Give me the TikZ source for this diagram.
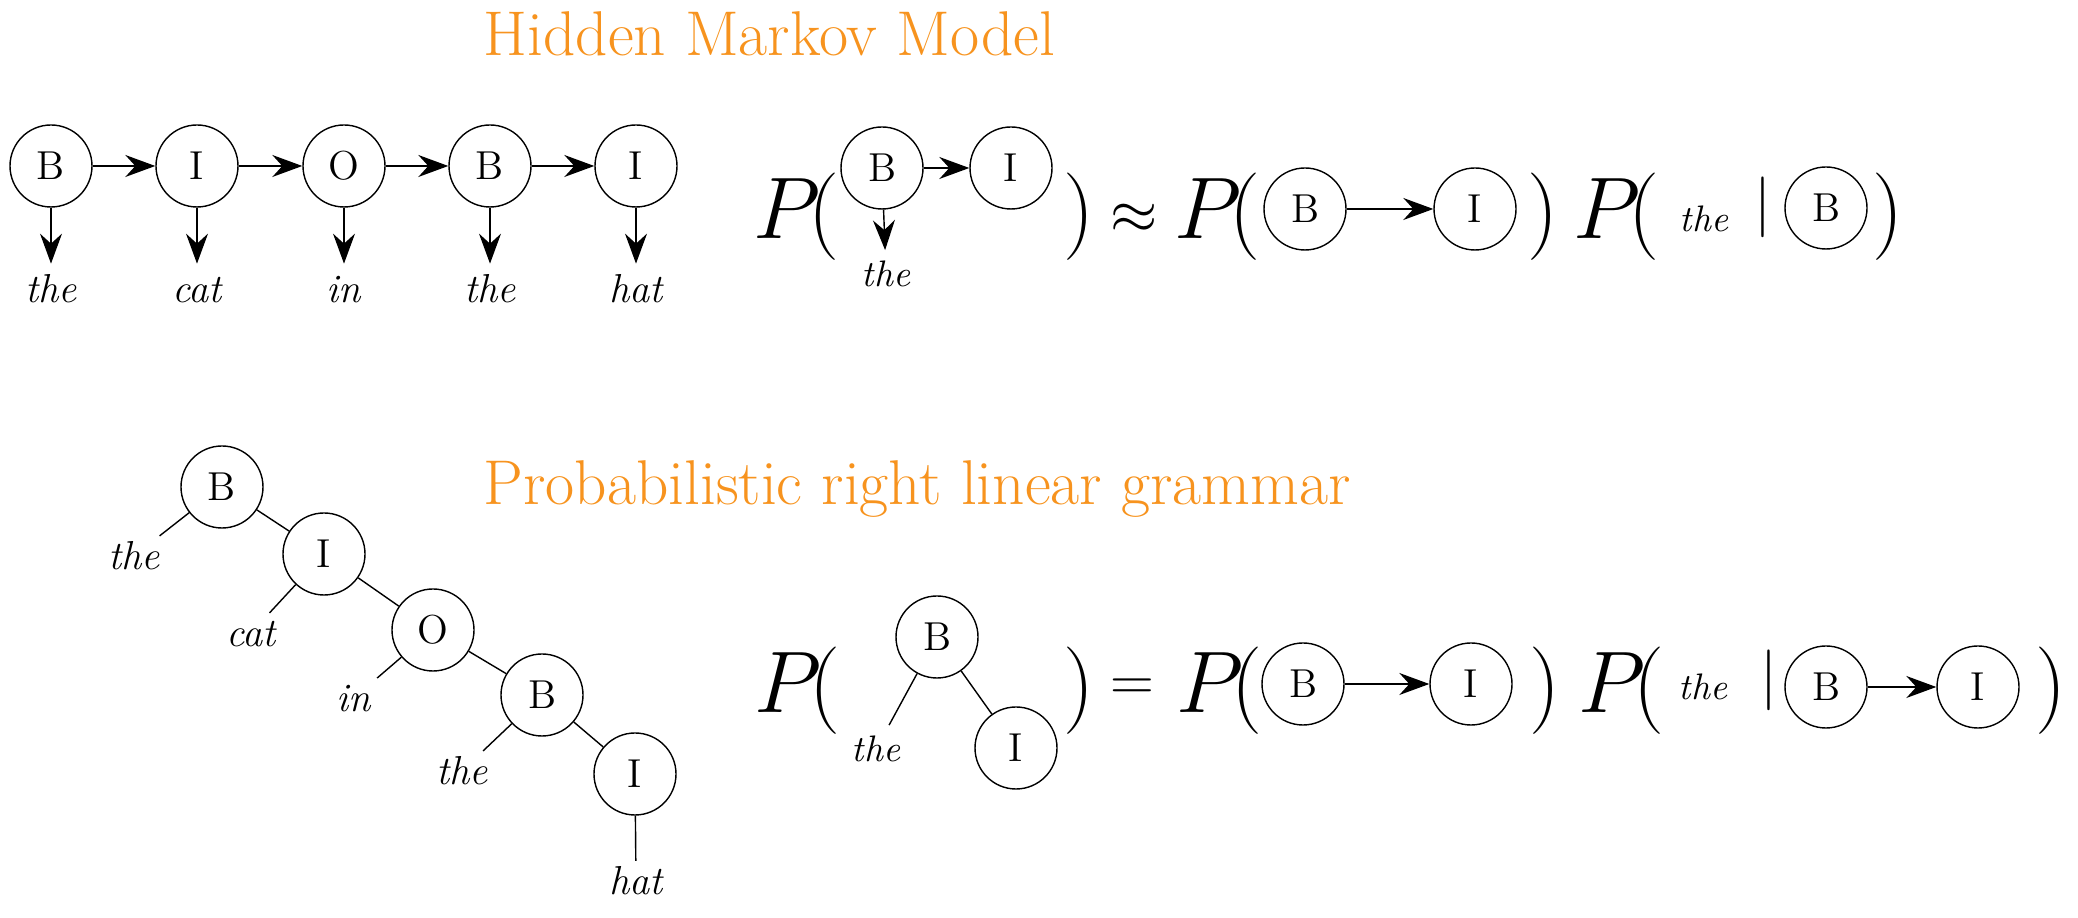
\documentclass[tikz,border=0pt]{standalone}
\usepackage{fontspec}
\usetikzlibrary{arrows.meta,positioning}
\definecolor{titleorange}{RGB}{247,147,30}
\tikzset{
	tag/.style={draw, circle, minimum size=0.82cm, inner sep=0pt, font=\fontsize{11.5}{14}\selectfont},
	word/.style={font=\fontsize{11.5}{14}\selectfont\itshape, text height=8pt, text depth=0pt, inner sep=3pt},
	leaf/.style={word, inner sep=1.5pt},
	eqword/.style={word, font=\fontsize{10.5}{13}\selectfont\itshape, text height=7.3pt},
	heading/.style={anchor=base west, inner sep=0pt, text=titleorange, font=\fontsize{18}{22}\selectfont},
	bigsym/.style={anchor=base west, inner sep=0pt, font=\fontsize{24}{28}\selectfont},
	relsym/.style={bigsym, font=\fontsize{17}{20}\selectfont},
	barsym/.style={bigsym, font=\fontsize{16.5}{20}\selectfont},
	emit/.style={-{Stealth[length=3mm, width=2.2mm, inset=1mm]}},
}
\begin{document}
\begin{tikzpicture}
	\useasboundingbox (0,0) rectangle (20.78,9.18);

	\node[heading] (hmm) at (4.83,8.62) {Hidden Markov Model};
	\node[heading] (prlg) at (4.83,4.13) {Probabilistic right linear grammar};

	\begin{scope}
		\node[tag] (c1) at (0.51,7.52) {B};
		\node[tag] (c2) at (1.97,7.52) {I};
		\node[tag] (c3) at (3.44,7.52) {O};
		\node[tag] (c4) at (4.90,7.52) {B};
		\node[tag] (c5) at (6.36,7.52) {I};
		\node[word, anchor=base] (cw1) at (0.51,6.15) {the};
		\node[word, anchor=base] (cw2) at (1.97,6.15) {cat};
		\node[word, anchor=base] (cw3) at (3.44,6.15) {in};
		\node[word, anchor=base] (cw4) at (4.90,6.15) {the};
		\node[word, anchor=base] (cw5) at (6.36,6.15) {hat};
		\draw[emit] (c1) -- (c2);
		\draw[emit] (c2) -- (c3);
		\draw[emit] (c3) -- (c4);
		\draw[emit] (c4) -- (c5);
		\draw[emit] (c1) -- (cw1);
		\draw[emit] (c2) -- (cw2);
		\draw[emit] (c3) -- (cw3);
		\draw[emit] (c4) -- (cw4);
		\draw[emit] (c5) -- (cw5);
	\end{scope}

	\begin{scope}
		\node[bigsym] (p1) at (7.53,6.79) {$P\mkern-2.5mu($};
		\node[tag] (e1b) at (8.82,7.50) {B};
		\node[tag] (e1i) at (10.11,7.50) {I};
		\node[eqword, anchor=base] (e1w) at (8.86,6.31) {the};
		\node[bigsym] (q1) at (10.63,6.79) {$)$};
		\node[relsym] (approx) at (11.10,6.84) {$\approx$};
		\node[bigsym] (p2) at (11.74,6.79) {$P\mkern-2.5mu($};
		\node[tag] (e2b) at (13.05,7.09) {B};
		\node[tag] (e2i) at (14.75,7.09) {I};
		\node[bigsym] (q2) at (15.27,6.79) {$)$};
		\node[bigsym] (p3) at (15.73,6.79) {$P\mkern-2.5mu($};
		\node[eqword, anchor=base] (e3w) at (17.04,6.86) {the};
		\node[barsym] (bar1) at (17.54,6.95) {$|$};
		\node[tag] (e3b) at (18.26,7.10) {B};
		\node[bigsym] (q3) at (18.72,6.79) {$)$};
		\draw[emit] (e1b) -- (e1i);
		\draw[emit] (e1b) -- (e1w);
		\draw[emit] (e2b) -- (e2i);
	\end{scope}

	\begin{scope}
		\node[tag] (t1) at (2.22,4.31) {B};
		\node[tag] (t2) at (3.24,3.64) {I};
		\node[tag] (t3) at (4.33,2.88) {O};
		\node[tag] (t4) at (5.42,2.23) {B};
		\node[tag] (t5) at (6.35,1.44) {I};
		\node[leaf, anchor=base] (tw1) at (1.34,3.48) {the};
		\node[leaf, anchor=base] (tw2) at (2.51,2.71) {cat};
		\node[leaf, anchor=base] (tw3) at (3.54,2.06) {in};
		\node[leaf, anchor=base] (tw4) at (4.62,1.33) {the};
		\node[leaf, anchor=base] (tw5) at (6.36,0.23) {hat};
		\draw (t1) -- (t2);
		\draw (t2) -- (t3);
		\draw (t3) -- (t4);
		\draw (t4) -- (t5);
		\draw (t1) -- (tw1);
		\draw (t2) -- (tw2);
		\draw (t3) -- (tw3);
		\draw (t4) -- (tw4);
		\draw (t5) -- (tw5);
	\end{scope}

	\begin{scope}
		\node[bigsym] (p4) at (7.54,2.05) {$P\mkern-2.5mu($};
		\node[tag] (f1b) at (9.37,2.81) {B};
		\node[tag] (f1i) at (10.16,1.70) {I};
		\node[eqword, anchor=base] (f1w) at (8.76,1.56) {the};
		\node[bigsym] (q4) at (10.63,2.05) {$)$};
		\node[relsym] (eqs) at (11.10,2.17) {$=$};
		\node[bigsym] (p5) at (11.76,2.05) {$P\mkern-2.5mu($};
		\node[tag] (f2b) at (13.03,2.34) {B};
		\node[tag] (f2i) at (14.71,2.34) {I};
		\node[bigsym] (q5) at (15.29,2.05) {$)$};
		\node[bigsym] (p6) at (15.78,2.05) {$P\mkern-2.5mu($};
		\node[eqword, anchor=base] (f3w) at (17.03,2.18) {the};
		\node[barsym] (bar2) at (17.60,2.22) {$|$};
		\node[tag] (f3b) at (18.26,2.31) {B};
		\node[tag] (f3i) at (19.78,2.31) {I};
		\node[bigsym] (q6) at (20.35,2.05) {$)$};
		\draw (f1b) -- (f1i);
		\draw (f1b) -- (f1w);
		\draw[emit] (f2b) -- (f2i);
		\draw[emit] (f3b) -- (f3i);
	\end{scope}
\end{tikzpicture}
\end{document}
